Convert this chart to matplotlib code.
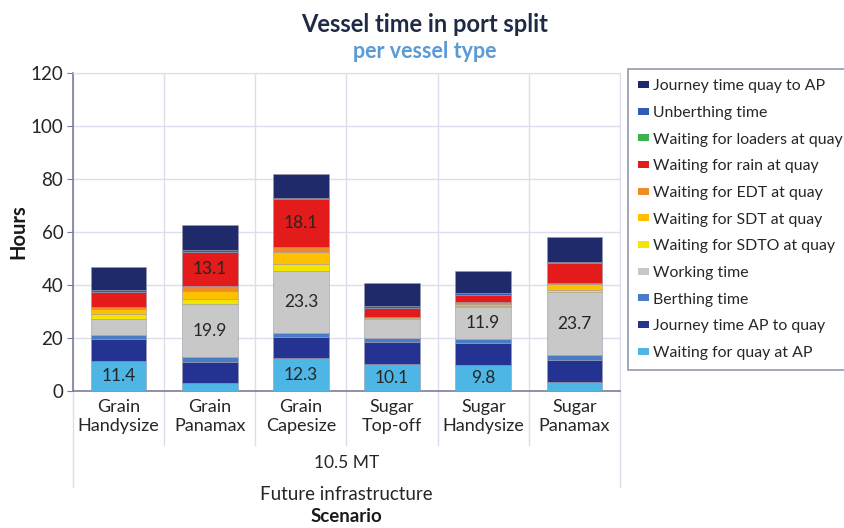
import matplotlib
matplotlib.use("Agg")
import matplotlib.pyplot as plt
import matplotlib.transforms as mtransforms
from matplotlib.lines import Line2D
from matplotlib.patches import Patch
import numpy as np

plt.rcParams['font.family'] = ['Lato', 'DejaVu Sans']

categories = ["Grain\nHandysize", "Grain\nPanamax", "Grain\nCapesize",
              "Sugar\nTop-off", "Sugar\nHandysize", "Sugar\nPanamax"]

# stacking order bottom -> top
series_names = ["Waiting for quay at AP", "Journey time AP to quay", "Berthing time",
                "Working time", "Waiting for SDTO at quay", "Waiting for SDT at quay",
                "Waiting for EDT at quay", "Waiting for rain at quay",
                "Waiting for loaders at quay", "Unberthing time", "Journey time quay to AP"]

waiting_quay_ap = [11.4, 2.9, 12.3, 10.1, 9.8, 3.3]
journey_ap_quay = [8.4, 8.2, 8.2, 8.4, 8.4, 8.4]
berthing = [1.5, 1.7, 1.3, 1.6, 1.5, 1.9]
working = [5.7, 19.9, 23.3, 7.2, 11.9, 23.7]
waiting_sdto = [1.9, 2.2, 3.0, 0.3, 0.6, 1.0]
waiting_sdt = [1.9, 2.8, 4.2, 0.3, 0.8, 2.2]
waiting_edt = [1.0, 1.8, 2.0, 0.2, 0.5, 0.3]
waiting_rain = [5.7, 13.1, 18.1, 3.4, 2.8, 7.5]
waiting_loaders = [0, 0, 0, 0, 0, 0]
unberthing = [0.8, 0.6, 0.5, 0.5, 0.8, 0.5]
journey_quay_ap = [8.4, 9.4, 8.9, 8.8, 8.0, 9.4]

series_values = [waiting_quay_ap, journey_ap_quay, berthing, working, waiting_sdto,
                 waiting_sdt, waiting_edt, waiting_rain, waiting_loaders, unberthing,
                 journey_quay_ap]
colors = ["#4DB6E4", "#243391", "#4A7CC6", "#C8C8C8", "#F4E500", "#FFC000",
          "#EE8A2A", "#E31B1B", "#3BB34A", "#2F5DB5", "#1E2A6A"]
labeled_series = {"Waiting for quay at AP", "Working time", "Waiting for rain at quay"}

fig = plt.figure(figsize=(8.45, 5.28), dpi=100)
ax = fig.add_axes([73/845, 1-391/528, (620-73)/845, (391-73)/528])

x = np.arange(len(categories))
bottom = np.zeros(len(categories))
for name, vals, col in zip(series_names, series_values, colors):
    v = np.array(vals, dtype=float)
    ax.bar(x, v, 0.61, bottom=bottom, color=col, edgecolor="#9A9AA8",
           linewidth=0.4, zorder=3, label=name)
    if name in labeled_series:
        for xi, b, val in zip(x, bottom, v):
            if val >= 9.5:
                ax.text(xi, b + val/2, f"{val:.1f}", ha="center", va="center",
                        fontsize=12.5, color="#262626", zorder=4)
    bottom += v

ax.set_xlim(-0.5, len(categories) - 0.5)
ax.set_ylim(0, 120)
ax.set_yticks(range(0, 121, 20))
ax.set_xticks(x)
ax.set_xticklabels(categories, fontsize=13, color="#262626", linespacing=1.2)
ax.tick_params(axis="x", length=0, pad=6)
ax.tick_params(axis="y", labelsize=13.5, labelcolor="#262626", length=4,
               color="#7A7E9E", pad=3)
ax.set_xticks(np.arange(-0.5, len(categories), 1), minor=True)
ax.tick_params(axis="x", which="minor", length=0)
ax.grid(True, which="major", axis="y", color="#DDDDEE", linewidth=1, zorder=0)
ax.grid(True, which="minor", axis="x", color="#DDDDEE", linewidth=1, zorder=0)
for s in ["top", "right"]:
    ax.spines[s].set_color("#DDDDEE")
for s in ["left", "bottom"]:
    ax.spines[s].set_color("#7A7E9E")
    ax.spines[s].set_linewidth(1.2)

# category separators below the axis
trans = mtransforms.blended_transform_factory(ax.transData, ax.transAxes)
h = (391-73)
for b in np.arange(-0.5, len(categories), 1):
    outer = b in (-0.5, len(categories) - 0.5)
    y_end = -(487-391)/h if outer else -(445-391)/h
    ax.add_line(Line2D([b, b], [0, y_end], transform=trans, color="#DDDDEE",
                       linewidth=1, clip_on=False))

ax.text(0.5, -(463-391)/h, "10.5 MT", transform=ax.transAxes, ha="center",
        va="center", fontsize=12.5, color="#262626")
ax.text(0.5, -(494-391)/h, "Future infrastructure", transform=ax.transAxes,
        ha="center", va="center", fontsize=13.5, color="#262626")
ax.text(0.5, -(516-391)/h, "Scenario", transform=ax.transAxes, ha="center",
        va="center", fontsize=13.5, color="#1A1A1A", fontweight="bold")
fig.text(18/845, 1-232/528, "Hours", rotation=90, ha="center", va="center",
         fontsize=14.5, fontweight="bold", color="#1A1A1A")

fig.text(425/845, 1-24/528, "Vessel time in port split", ha="center", va="center",
         fontsize=17, fontweight="bold", color="#1F2A44")
fig.text(425/845, 1-52/528, "per vessel type", ha="center", va="center",
         fontsize=15.5, fontweight="bold", color="#5B9BD5")

handles = [Patch(facecolor=c, edgecolor="none", label=n)
           for n, c in zip(series_names, colors)][::-1]
leg = fig.legend(handles=handles, loc="upper left",
                 bbox_to_anchor=(628/845, 1-69/528), fontsize=11.4,
                 frameon=True, fancybox=False, edgecolor="#7A7E9E",
                 handlelength=0.65, handleheight=0.3, handletextpad=0.25,
                 labelspacing=0.8, borderpad=0.65, borderaxespad=0)
leg.get_frame().set_linewidth(1.2)
for t in leg.get_texts():
    t.set_color("#262626")

fig.savefig("out.png", dpi=100)
